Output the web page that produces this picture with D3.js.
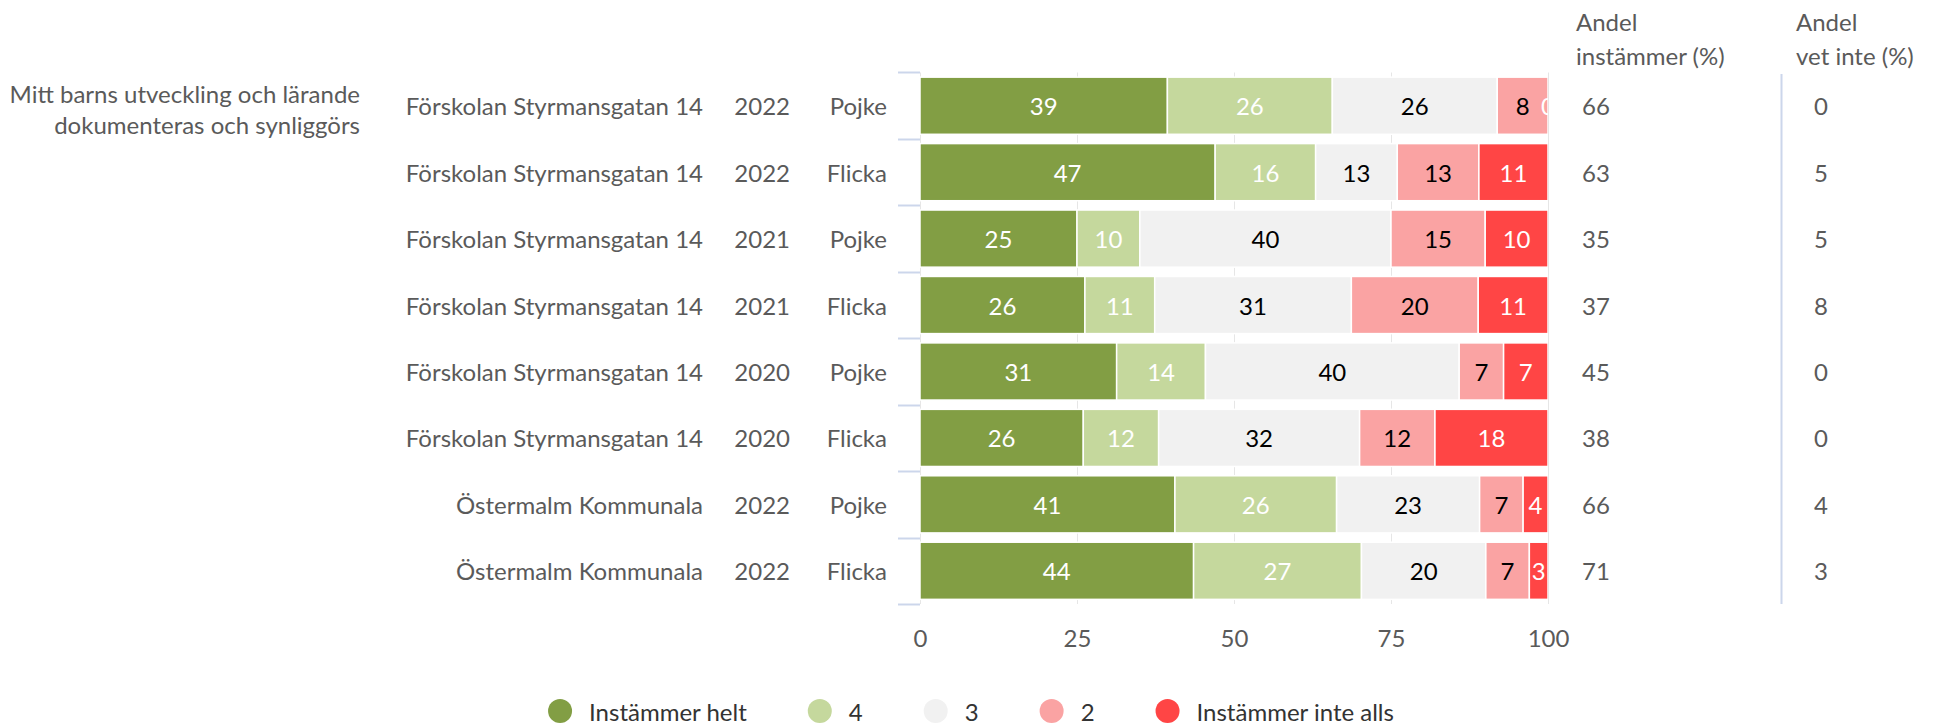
<!DOCTYPE html>
<html><head><meta charset="utf-8">
<script src="https://cdn.jsdelivr.net/npm/d3@7"></script>
<style>body{margin:0;background:#fff;} text{font-family:Lato, sans-serif;}</style>
</head><body><svg id="c" width="1942" height="726"></svg>
<script>
const question = ["Mitt barns utveckling och lärande", "dokumenteras och synliggörs"];
const schools = ["Förskolan Styrmansgatan 14","Förskolan Styrmansgatan 14","Förskolan Styrmansgatan 14","Förskolan Styrmansgatan 14","Förskolan Styrmansgatan 14","Förskolan Styrmansgatan 14","Östermalm Kommunala","Östermalm Kommunala"];
const years = ["2022","2022","2021","2021","2020","2020","2022","2022"];
const genders = ["Pojke","Flicka","Pojke","Flicka","Pojke","Flicka","Pojke","Flicka"];
const seriesNames = ["Instämmer helt","4","3","2","Instämmer inte alls"];
const helt     = [39,47,25,26,31,26,41,44];
const s4       = [26,16,10,11,14,12,26,27];
const s3       = [26,13,40,31,40,32,23,20];
const s2       = [8,13,15,20,7,12,7,7];
const inteAlls = [0,11,10,11,7,18,4,3];
const andelInstammer = [66,63,35,37,45,38,66,71];
const andelVetInte   = [0,5,5,8,0,0,4,3];
const xTicks = [0,25,50,75,100];
const headers = [["Andel","instämmer (%)"],["Andel","vet inte (%)"]];

(function(){
const seriesValues = [helt, s4, s3, s2, inteAlls];
const colors = ["#829e44","#c5d89d","#f1f1f1","#faa3a3","#ff4545"];
const labelColors = ["#ffffff","#ffffff","#000000","#000000","#ffffff"];

const svg = d3.select("#c");
const FS = 24;
const grey = "#5a5a5a";
const pLeft = 920, pRight = 1548, pTop = 72.5, pBottom = 604;

const rows = d3.range(schools.length);
const x = d3.scaleLinear().domain([0,100]).range([pLeft,pRight]);
const y = d3.scaleBand().domain(rows).range([pTop,pBottom]).paddingInner(0.14).paddingOuter(0.07);

svg.append("g").selectAll("line").data(xTicks).join("line")
  .attr("x1", d=>x(d)+0.5).attr("x2", d=>x(d)+0.5).attr("y1", pTop).attr("y2", pBottom)
  .attr("stroke","#e6e6e6").attr("stroke-width",1);

const gap = (y.step()-y.bandwidth())/2;
const bounds = rows.map(r=>y(r)-gap).concat([y(rows.length-1)+y.bandwidth()+gap]);
svg.append("g").selectAll("line").data(bounds).join("line")
  .attr("x1", pLeft-22).attr("x2", pLeft).attr("y1", d=>Math.round(d)+0.5).attr("y2", d=>Math.round(d)+0.5)
  .attr("stroke","#ccd6eb").attr("stroke-width",2);

const stack = d3.stack().keys(d3.range(seriesNames.length))
  .value((r,k)=>seriesValues[k][r]).offset(d3.stackOffsetExpand);
const stacked = stack(rows);

svg.append("defs").append("clipPath").attr("id","plotclip")
  .append("rect").attr("x",pLeft).attr("y",0).attr("width",pRight-pLeft).attr("height",726);

const plot = svg.append("g").attr("clip-path","url(#plotclip)");
stacked.forEach((layer,k)=>{
  plot.append("g").selectAll("rect").data(layer).join("rect")
    .attr("x", d=>x(d[0]*100)).attr("y", (d,i)=>y(rows[i]))
    .attr("width", d=>Math.max(0, x(d[1]*100)-x(d[0]*100))).attr("height", y.bandwidth())
    .attr("fill", colors[k]).attr("stroke","#fff").attr("stroke-width",1.5);
});
stacked.forEach((layer,k)=>{
  plot.append("g").selectAll("text").data(layer).join("text")
    .attr("x", d=>(x(d[0]*100)+x(d[1]*100))/2).attr("y", (d,i)=>y(rows[i])+y.bandwidth()/2)
    .attr("text-anchor","middle").attr("dominant-baseline","central")
    .attr("font-size",FS).attr("fill",labelColors[k])
    .text((d,i)=>seriesValues[k][i]);
});

const xAxis = svg.append("g").attr("transform",`translate(0,637)`)
  .call(d3.axisBottom(x).tickValues(xTicks).tickSize(0).tickPadding(0));
xAxis.select(".domain").remove();
xAxis.selectAll("text").attr("font-size",FS).attr("fill",grey).attr("font-family","Lato, sans-serif")
  .attr("dy",null).attr("dominant-baseline","central");

const cy = r=>y(r)+y.bandwidth()/2;
const lab = (arr, xp) => svg.append("g").selectAll("text").data(rows).join("text")
  .attr("x", xp).attr("y", r=>cy(r)).attr("text-anchor","end").attr("dominant-baseline","central")
  .attr("font-size",FS).attr("fill",grey).text(r=>arr[r]);
lab(schools, 703);
lab(years, 790);
lab(genders, 887);

svg.append("g").selectAll("text").data(question).join("text")
  .attr("x",360).attr("y",(d,i)=>93+i*31).attr("text-anchor","end").attr("dominant-baseline","central")
  .attr("font-size",FS).attr("fill",grey).text(d=>d);

svg.append("g").selectAll("text").data(rows).join("text")
  .attr("x",1582).attr("y",r=>cy(r)).attr("dominant-baseline","central")
  .attr("font-size",FS).attr("fill",grey).text(r=>andelInstammer[r]);
svg.append("g").selectAll("text").data(rows).join("text")
  .attr("x",1814).attr("y",r=>cy(r)).attr("dominant-baseline","central")
  .attr("font-size",FS).attr("fill",grey).text(r=>andelVetInte[r]);
svg.append("line").attr("x1",1781.5).attr("x2",1781.5).attr("y1",74).attr("y2",pBottom)
  .attr("stroke","#ccd6eb").attr("stroke-width",2);
[1576,1796].forEach((hx,j)=>{
  svg.append("g").selectAll("text").data(headers[j]).join("text")
    .attr("x",hx).attr("y",(d,i)=>21+i*34).attr("dominant-baseline","central")
    .attr("font-size",FS).attr("fill",grey).text(d=>d);
});

const lg = svg.append("g");
const R = 12, symGap = 17, itemDist = 61;
let cx = 0;
seriesNames.forEach((n,k)=>{
  const g = lg.append("g");
  g.append("circle").attr("cx",cx+R).attr("cy",0).attr("r",R).attr("fill",colors[k]);
  const t = g.append("text").attr("x",cx+2*R+symGap).attr("y",0).attr("dominant-baseline","central")
    .attr("font-size",FS).attr("fill","#333").text(n);
  cx += 2*R+symGap+t.node().getComputedTextLength()+itemDist;
});
const total = cx-itemDist;
lg.attr("transform",`translate(${(1942-total)/2},711)`);
})();
</script></body></html>
